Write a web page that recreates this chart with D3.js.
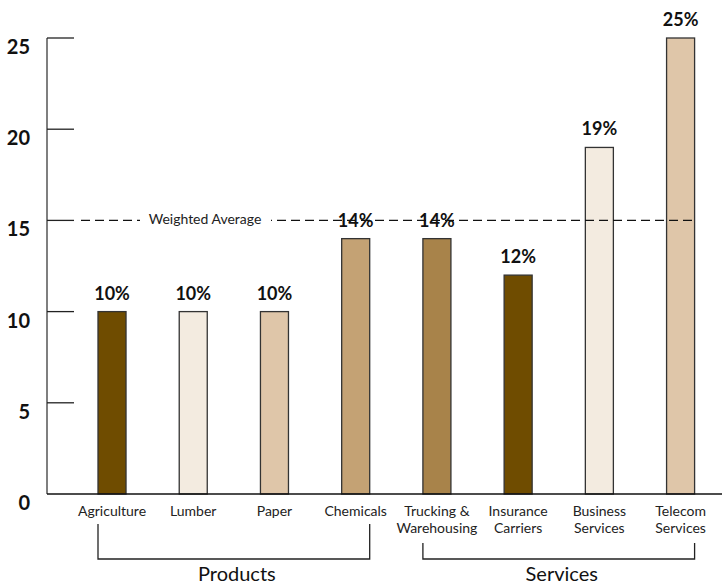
<!DOCTYPE html>
<html>
<head>
<meta charset="utf-8">
<script src="https://cdn.jsdelivr.net/npm/d3@7"></script>
<style>
  body { margin: 0; background: #fff; }
  svg { display: block; font-family: Lato, "Open Sans", sans-serif; }
</style>
</head>
<body>
<svg width="722" height="585"></svg>
<script>
// data
var categories = ["Agriculture", "Lumber", "Paper", "Chemicals",
                  "Trucking &\nWarehousing", "Insurance\nCarriers", "Business\nServices", "Telecom\nServices"];
var values = [10, 10, 10, 14, 14, 12, 19, 25];
var barColors = ["#6f4c00", "#f3ebe0", "#dfc6a9", "#c4a274", "#a8834a", "#6f4c00", "#f3ebe0", "#dfc6a9"];
var yTicks = [0, 5, 10, 15, 20, 25];
var weightedAverage = 15;
var groups = [
  { name: "Products", first: 0, last: 3 },
  { name: "Services", first: 4, last: 7 }
];

var svg = d3.select("svg");

var x = d3.scaleBand()
  .domain(categories)
  .range([71.4, 721.2])
  .paddingInner(0.655)
  .paddingOuter(0.3275);

var y = d3.scaleLinear().domain([0, 25]).range([494, 38]);

// y axis line
svg.append("line")
  .attr("x1", 47).attr("x2", 47)
  .attr("y1", y(25)).attr("y2", y(0))
  .attr("stroke", "#555").attr("stroke-width", 1.5);

// ticks and labels
var tk = svg.append("g").selectAll("g")
  .data(yTicks)
  .enter().append("g");
tk.filter(d => d > 0).append("line")
  .attr("x1", 47).attr("x2", 74)
  .attr("y1", d => y(d)).attr("y2", d => y(d))
  .attr("stroke", "#222").attr("stroke-width", 1.3);
tk.append("text")
  .attr("x", 30)
  .attr("y", d => y(d) + 16)
  .attr("text-anchor", "end")
  .attr("font-size", "20px")
  .attr("font-weight", "bold")
  .attr("fill", "#111")
  .text(d => d);

// bars
svg.append("g").selectAll("rect")
  .data(values)
  .enter().append("rect")
  .attr("x", (d, i) => x(categories[i]))
  .attr("y", d => y(d))
  .attr("width", x.bandwidth())
  .attr("height", d => y(0) - y(d))
  .attr("fill", (d, i) => barColors[i])
  .attr("stroke", "#333")
  .attr("stroke-width", 1.3);

// weighted average line (drawn over the bars)
svg.append("line")
  .attr("x1", 81).attr("x2", 695)
  .attr("y1", y(weightedAverage)).attr("y2", y(weightedAverage))
  .attr("stroke", "#111").attr("stroke-width", 1.3)
  .attr("stroke-dasharray", "9,5");
svg.append("rect")
  .attr("x", 140).attr("y", y(weightedAverage) - 9)
  .attr("width", 131).attr("height", 18)
  .attr("fill", "#fff");
svg.append("text")
  .attr("x", 205).attr("y", y(weightedAverage) + 4)
  .attr("text-anchor", "middle")
  .attr("font-size", "14px")
  .attr("fill", "#222")
  .text("Weighted Average");

// value labels
svg.append("g").selectAll("text")
  .data(values)
  .enter().append("text")
  .attr("x", (d, i) => x(categories[i]) + x.bandwidth() / 2)
  .attr("y", d => y(d) - 12)
  .attr("text-anchor", "middle")
  .attr("font-size", "18px")
  .attr("font-weight", "bold")
  .attr("fill", "#111")
  .text(d => d + "%");

// baseline
svg.append("line")
  .attr("x1", 47).attr("x2", 722)
  .attr("y1", y(0)).attr("y2", y(0))
  .attr("stroke", "#111").attr("stroke-width", 1.5);

// category labels
var cl = svg.append("g").selectAll("text")
  .data(categories)
  .enter().append("text")
  .attr("x", d => x(d) + x.bandwidth() / 2)
  .attr("y", 516)
  .attr("text-anchor", "middle")
  .attr("font-size", "14px")
  .attr("fill", "#222");
cl.selectAll("tspan")
  .data(d => d.split("\n"))
  .enter().append("tspan")
  .attr("x", function () { return d3.select(this.parentNode).attr("x"); })
  .attr("dy", (d, i) => i === 0 ? 0 : 17)
  .text(d => d);

// group brackets
groups.forEach(function (g) {
  var x0 = x(categories[g.first]);
  var x1 = x(categories[g.last]) + x.bandwidth();
  var top = categories.slice(g.first, g.last + 1).some(c => c.indexOf("\n") >= 0) ? 543 : 524;
  svg.append("path")
    .attr("d", "M" + x0 + "," + top + "V559H" + x1 + "V" + top)
    .attr("fill", "none")
    .attr("stroke", "#222")
    .attr("stroke-width", 1.3);
  svg.append("text")
    .attr("x", (x0 + x1) / 2 + 3)
    .attr("y", 581)
    .attr("text-anchor", "middle")
    .attr("font-size", "20px")
    .attr("fill", "#111")
    .text(g.name);
});
</script>
</body>
</html>
